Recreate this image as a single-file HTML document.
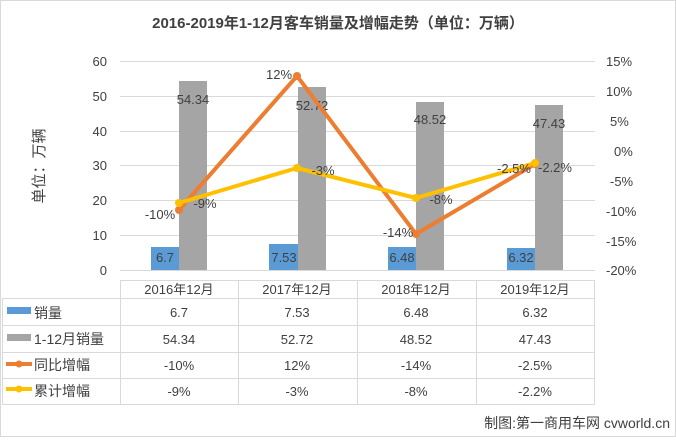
<!DOCTYPE html><html><head><meta charset="utf-8"><style>
body{margin:0;background:#fff;font-family:"Liberation Sans","Noto Sans CJK SC",sans-serif;}
svg text{font-family:"Liberation Sans","Noto Sans CJK SC",sans-serif;fill:#404040}
</style></head><body>
<svg width="676" height="437" xmlns="http://www.w3.org/2000/svg">
<rect x="0.5" y="0.5" width="675" height="436" fill="#fff" stroke="#d9d9d9"/>
<text x="338" y="28" font-size="15" font-weight="bold" text-anchor="middle" fill="#404040">2016-2019年1-12月客车销量及增幅走势（单位：万辆）</text>
<g stroke="#d9d9d9" stroke-width="1">
<line x1="120" y1="61.5" x2="595" y2="61.5"/><line x1="120" y1="96.5" x2="595" y2="96.5"/>
<line x1="120" y1="131.5" x2="595" y2="131.5"/><line x1="120" y1="165.5" x2="595" y2="165.5"/>
<line x1="120" y1="200.5" x2="595" y2="200.5"/><line x1="120" y1="235.5" x2="595" y2="235.5"/>
<line x1="120" y1="270.5" x2="595" y2="270.5"/>
</g>
<g font-size="13" text-anchor="end">
<text x="107" y="66">60</text><text x="107" y="101">50</text><text x="107" y="136">40</text><text x="107" y="170">30</text><text x="107" y="205">20</text><text x="107" y="240">10</text><text x="107" y="275">0</text>
</g>
<g font-size="13" text-anchor="start">
<text x="606" y="66">15%</text><text x="606" y="96">10%</text><text x="610" y="126">5%</text><text x="614" y="156">0%</text><text x="610" y="186">-5%</text><text x="606" y="216">-10%</text><text x="606" y="246">-15%</text><text x="606" y="275">-20%</text>
</g>
<text transform="translate(44,166) rotate(-90)" font-size="15" text-anchor="middle">单位：万辆</text>
<g>
<rect x="151" y="247" width="28" height="23" fill="#5b9bd5"/><rect x="179" y="81" width="28" height="189" fill="#a5a5a5"/>
<rect x="269" y="244" width="29" height="26" fill="#5b9bd5"/><rect x="298" y="87" width="28" height="183" fill="#a5a5a5"/>
<rect x="388" y="247" width="28" height="23" fill="#5b9bd5"/><rect x="416" y="102" width="28" height="168" fill="#a5a5a5"/>
<rect x="507" y="248" width="28" height="22" fill="#5b9bd5"/><rect x="535" y="105" width="28" height="165" fill="#a5a5a5"/>
</g>
<g font-size="13" text-anchor="middle">
<text x="165" y="262">6.7</text><text x="284" y="262">7.53</text><text x="402" y="262">6.48</text><text x="521" y="262">6.32</text>
<text x="193" y="104">54.34</text><text x="312" y="110">52.72</text><text x="430" y="124">48.52</text><text x="549" y="128">47.43</text>
</g>
<polyline points="179,210 297,76 416,234 535,164" fill="none" stroke="#ed7d31" stroke-width="4" stroke-linejoin="round"/>
<polyline points="179,203 297,168 416,198 535,163" fill="none" stroke="#ffc000" stroke-width="4" stroke-linejoin="round"/>
<g fill="#ed7d31"><circle cx="179" cy="210" r="4"/><circle cx="297" cy="76" r="4"/><circle cx="416" cy="234" r="4"/><circle cx="535" cy="164" r="4"/></g>
<g fill="#ffc000"><circle cx="179" cy="203" r="4"/><circle cx="297" cy="168" r="4"/><circle cx="416" cy="198" r="4"/><circle cx="535" cy="163" r="4"/></g>
<g font-size="13" text-anchor="middle">
<text x="160" y="219">-10%</text><text x="279" y="79">12%</text><text x="398" y="237">-14%</text><text x="514" y="173">-2.5%</text>
<text x="205" y="208">-9%</text><text x="323" y="175">-3%</text><text x="441" y="204">-8%</text><text x="555" y="172">-2.2%</text>
</g>
<g stroke="#d9d9d9" stroke-width="1">
<line x1="120" y1="280.5" x2="595" y2="280.5"/>
<line x1="2" y1="298.5" x2="595" y2="298.5"/><line x1="2" y1="325.5" x2="595" y2="325.5"/>
<line x1="2" y1="352.5" x2="595" y2="352.5"/><line x1="2" y1="378.5" x2="595" y2="378.5"/>
<line x1="2" y1="404.5" x2="595" y2="404.5"/>
<line x1="2.5" y1="298" x2="2.5" y2="404"/>
<line x1="120.5" y1="280" x2="120.5" y2="404"/><line x1="238.5" y1="280" x2="238.5" y2="404"/>
<line x1="357.5" y1="280" x2="357.5" y2="404"/><line x1="476.5" y1="280" x2="476.5" y2="404"/>
<line x1="594.5" y1="280" x2="594.5" y2="404"/>
</g>
<g font-size="13" text-anchor="middle">
<text x="179" y="294">2016年12月</text><text x="297" y="294">2017年12月</text><text x="416" y="294">2018年12月</text><text x="535" y="294">2019年12月</text>
<text x="179" y="317">6.7</text><text x="297" y="317">7.53</text><text x="416" y="317">6.48</text><text x="535" y="317">6.32</text>
<text x="179" y="344">54.34</text><text x="297" y="344">52.72</text><text x="416" y="344">48.52</text><text x="535" y="344">47.43</text>
<text x="179" y="370">-10%</text><text x="297" y="370">12%</text><text x="416" y="370">-14%</text><text x="535" y="370">-2.5%</text>
<text x="179" y="396">-9%</text><text x="297" y="396">-3%</text><text x="416" y="396">-8%</text><text x="535" y="396">-2.2%</text>
</g>
<rect x="7" y="307" width="24" height="7" fill="#5b9bd5"/>
<rect x="7" y="334" width="24" height="7" fill="#a5a5a5"/>
<line x1="6" y1="364" x2="32" y2="364" stroke="#ed7d31" stroke-width="4"/><circle cx="19" cy="364" r="3.5" fill="#ed7d31"/>
<line x1="6" y1="389" x2="32" y2="389" stroke="#ffc000" stroke-width="4"/><circle cx="19" cy="389" r="3.5" fill="#ffc000"/>
<g font-size="14">
<text x="34" y="318">销量</text><text x="34" y="344">1-12月销量</text><text x="34" y="370">同比增幅</text><text x="34" y="396">累计增幅</text>
</g>
<text x="670" y="428" font-size="14" text-anchor="end" fill="#262626">制图:第一商用车网 cvworld.cn</text>
</svg>
</body></html>
